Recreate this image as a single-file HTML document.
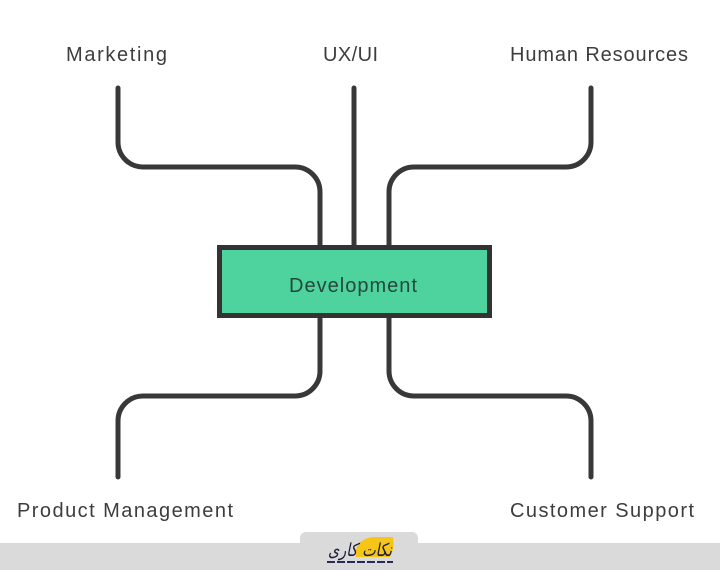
<!DOCTYPE html>
<html>
<head>
<meta charset="utf-8">
<style>
  html, body { margin: 0; padding: 0; background: #ffffff; }
  body { width: 720px; height: 570px; overflow: hidden; position: relative; }
  svg { position: absolute; left: 0; top: 0; }
  .lbl { font-family: "Liberation Sans", "DejaVu Sans", sans-serif; font-size: 20px; fill: #3d3d3d; }
</style>
</head>
<body>
<svg width="720" height="570" viewBox="0 0 720 570" xmlns="http://www.w3.org/2000/svg">
  <rect x="0" y="0" width="720" height="570" fill="#ffffff"/>

  <!-- connectors -->
  <g fill="none" stroke="#383838" stroke-width="5" stroke-linecap="round" stroke-linejoin="round">
    <path d="M118,88 V142 A25,25 0 0 0 143,167 H295 A25,25 0 0 1 320,192 V248"/>
    <path d="M354,88 V248"/>
    <path d="M591,88 V142 A25,25 0 0 1 566,167 H414 A25,25 0 0 0 389,192 V248"/>
    <path d="M320,315 V371 A25,25 0 0 1 295,396 H143 A25,25 0 0 0 118,421 V477"/>
    <path d="M389,315 V371 A25,25 0 0 0 414,396 H566 A25,25 0 0 1 591,421 V477"/>
  </g>

  <!-- Development box -->
  <rect x="219.5" y="247.5" width="270" height="68" fill="#4fd39e" stroke="#333333" stroke-width="5"/>
  <text x="289" y="292" class="lbl" style="fill:#25463a" textLength="128" lengthAdjust="spacing">Development</text>

  <!-- labels -->
  <text x="66" y="61" class="lbl" textLength="101" lengthAdjust="spacing">Marketing</text>
  <text x="323" y="61" class="lbl" textLength="55" lengthAdjust="spacing">UX/UI</text>
  <text x="510" y="61" class="lbl" textLength="178" lengthAdjust="spacing">Human Resources</text>
  <text x="17" y="517" class="lbl" textLength="216" lengthAdjust="spacing">Product Management</text>
  <text x="510" y="517" class="lbl" textLength="184" lengthAdjust="spacing">Customer Support</text>

  <!-- bottom bar with tab -->
  <rect x="0" y="543" width="720" height="27" fill="#dadada"/>
  <path d="M300,543 V538 A6,6 0 0 1 306,532 H412 A6,6 0 0 1 418,538 V543 Z" fill="#dadada"/>

  <!-- watermark logo -->
  <path d="M356,549 Q360,538 374,537 L393,537 Q395,548 390,557 L356,557 Z" fill="#f5c518"/>
  <text x="360" y="556" text-anchor="middle" font-family="DejaVu Sans, sans-serif" font-size="18" fill="#1b1b3a" font-style="italic" textLength="64" lengthAdjust="spacingAndGlyphs">نکات کاری</text>
  <line x1="327" y1="562" x2="393" y2="562" stroke="#2a2a5a" stroke-width="2" stroke-dasharray="8,2"/>
</svg>
</body>
</html>
